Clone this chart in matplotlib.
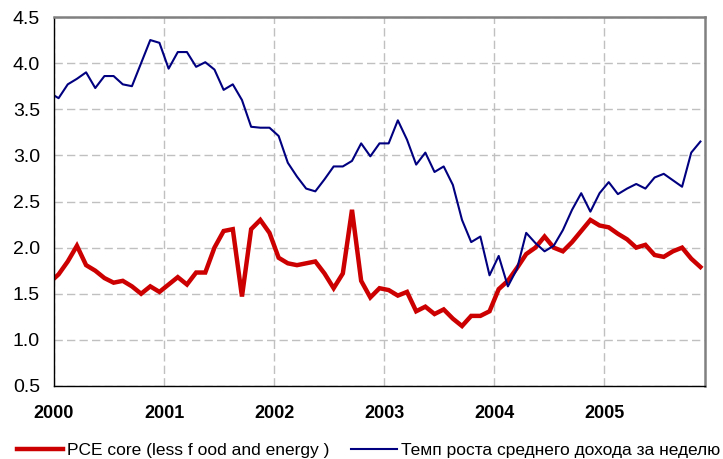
import matplotlib.pyplot as plt
import numpy as np

plt.rcParams['font.family'] = ['Liberation Sans', 'DejaVu Sans']

# monthly values, first one is Dec 1999 (clipped by the axis), last one Nov 2005
year_labels = ['2000', '2001', '2002', '2003', '2004', '2005']

pce_core = [1.62,
            1.71, 1.85, 2.02, 1.81, 1.75, 1.67, 1.62, 1.64, 1.58, 1.50, 1.58, 1.52,
            1.60, 1.68, 1.60, 1.73, 1.73, 2.00, 2.18, 2.20, 1.47, 2.20, 2.30, 2.16,
            1.89, 1.83, 1.81, 1.83, 1.85, 1.72, 1.56, 1.72, 2.41, 1.64, 1.46, 1.56,
            1.54, 1.48, 1.52, 1.31, 1.36, 1.28, 1.33, 1.23, 1.15, 1.26, 1.26, 1.31,
            1.55, 1.64, 1.78, 1.93, 2.00, 2.12, 2.00, 1.96, 2.06, 2.18, 2.30, 2.24,
            2.22, 2.15, 2.09, 2.00, 2.03, 1.92, 1.90, 1.96, 2.00, 1.88, 1.79]

wage_growth = [3.68,
               3.62, 3.77, 3.83, 3.90, 3.73, 3.86, 3.86, 3.77, 3.75, 4.00, 4.25, 4.22,
               3.94, 4.12, 4.12, 3.96, 4.01, 3.93, 3.71, 3.77, 3.60, 3.31, 3.30, 3.30,
               3.21, 2.92, 2.77, 2.64, 2.61, 2.74, 2.88, 2.88, 2.94, 3.13, 2.99, 3.13,
               3.13, 3.38, 3.17, 2.90, 3.03, 2.82, 2.88, 2.68, 2.30, 2.06, 2.12, 1.70,
               1.91, 1.58, 1.77, 2.16, 2.05, 1.96, 2.02, 2.19, 2.41, 2.59, 2.39, 2.59,
               2.71, 2.58, 2.64, 2.69, 2.64, 2.76, 2.80, 2.73, 2.66, 3.03, 3.15]

# x in months since Jan 2000, points at mid-month
months = np.arange(len(pce_core)) - 0.5

fig = plt.figure(figsize=(7.23, 4.59), dpi=100)
ax = fig.add_axes([54 / 723, 1 - 386 / 459, (705 - 54) / 723, (386 - 17) / 459])

ax.plot(months, pce_core, color='#cc0000', lw=3.2, solid_joinstyle='miter',
        label='PCE core (less f ood and energy )')
ax.plot(months, wage_growth, color='#000080', lw=1.5,
        label='Темп роста среднего дохода за неделю')

ax.set_xlim(0, 71)
ax.set_ylim(0.5, 4.5)
ax.set_yticks(np.arange(0.5, 4.51, 0.5))
ax.set_yticklabels([f'{v:.1f}' for v in np.arange(0.5, 4.51, 0.5)], fontsize=14)
ax.set_xticks(np.arange(0, 72, 12))
ax.set_xticklabels(year_labels, fontsize=13, fontweight='bold')
ax.tick_params(axis='y', length=0, pad=10)
ax.tick_params(axis='x', length=0, pad=14)

ax.grid(True, color='#c0c0c0', ls=(0, (6, 3)), lw=1)
ax.set_axisbelow(True)

for side in ['left', 'bottom']:
    ax.spines[side].set_color('black')
    ax.spines[side].set_linewidth(1)
for side in ['top', 'right']:
    ax.spines[side].set_color('#808080')
    ax.spines[side].set_linewidth(1.8)

fig.legend(loc='lower left', bbox_to_anchor=(17 / 723, 1 / 459), ncol=2,
           frameon=False, borderpad=0, borderaxespad=0, fontsize=12.5,
           handlelength=2.65, handletextpad=0.25, columnspacing=1.2)

fig.savefig('out.png', dpi=100)
